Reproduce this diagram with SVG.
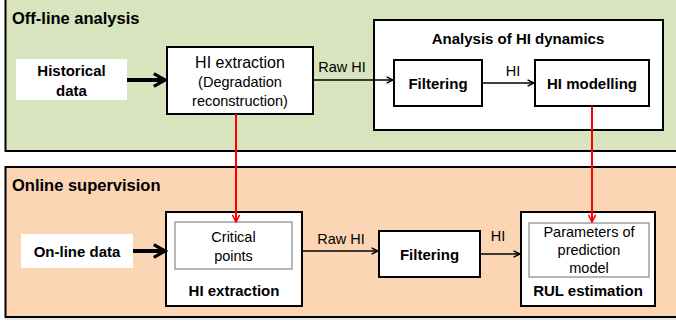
<svg xmlns="http://www.w3.org/2000/svg" width="676" height="323" viewBox="0 0 676 323">
<style>
text{font-family:"Liberation Sans",Arial,sans-serif;fill:#000}
.t{font-size:16.5px;font-weight:bold}
.n{font-size:14.5px}
.m{font-size:15px;font-weight:bold}
.box{fill:#fff;stroke:#000;stroke-width:2}
.inner{fill:#fff;stroke:#888;stroke-width:1.2}
.thin{stroke:#000;stroke-width:1.5;fill:none}
.thick{stroke:#000;stroke-width:4;fill:none}
.red{stroke:#ff0000;stroke-width:2;fill:none}
</style>
<defs>
<marker id="ah" viewBox="0 0 10 10" refX="9" refY="5" markerWidth="8" markerHeight="8" markerUnits="userSpaceOnUse" orient="auto"><path d="M1,1 L9,5 L1,9" fill="none" stroke="#000" stroke-width="1.8"/></marker>
<marker id="ahT" viewBox="0 0 10 10" refX="8" refY="5" markerWidth="4" markerHeight="4.5" orient="auto"><path d="M1,1 L8,5 L1,9" fill="none" stroke="#000" stroke-width="2"/></marker>
<marker id="ahR" viewBox="0 0 10 10" refX="9" refY="5" markerWidth="9" markerHeight="9" markerUnits="userSpaceOnUse" orient="auto"><path d="M1,1 L9,5 L1,9" fill="none" stroke="#ff0000" stroke-width="1.8"/></marker>
</defs>
<g id="panel-offline">
<rect x="5.5" y="-5" width="680" height="156" fill="#d7e4bd" stroke="#000" stroke-width="2"/>
<text x="12" y="24" class="t">Off-line analysis</text>
</g>
<g id="panel-online">
<rect x="5.5" y="167" width="680" height="150" fill="#fcd5b5" stroke="#000" stroke-width="2"/>
<line x1="5" y1="319" x2="676" y2="319" stroke="#ccc" stroke-width="1"/>
<text x="12" y="191" class="t">Online supervision</text>
</g>
<g id="historical-data">
<rect x="16" y="59" width="111" height="41" fill="#fff"/>
<text x="71.5" y="76" class="m" text-anchor="middle">Historical</text>
<text x="71.5" y="96" class="m" text-anchor="middle">data</text>
</g>
<g id="hi-extraction-offline">
<rect x="167" y="47" width="146" height="67" class="box"/>
<text x="240" y="68" text-anchor="middle" font-size="16">HI extraction</text>
<text x="240" y="87" class="n" text-anchor="middle">(Degradation</text>
<text x="240" y="106" class="n" text-anchor="middle">reconstruction)</text>
</g>
<g id="analysis-hi-dynamics">
<rect x="374" y="20" width="289" height="110" class="box"/>
<text x="518" y="44" class="m" text-anchor="middle">Analysis of HI dynamics</text>
</g>
<g id="filtering-offline">
<rect x="394" y="60" width="88" height="46" class="box"/>
<text x="438" y="89" class="m" text-anchor="middle">Filtering</text>
</g>
<g id="hi-modelling">
<rect x="535" y="60" width="114" height="46" class="box"/>
<text x="592" y="89" class="m" text-anchor="middle">HI modelling</text>
</g>
<g id="online-data">
<rect x="21" y="234" width="112" height="34" fill="#fff"/>
<text x="77" y="257" class="m" text-anchor="middle">On-line data</text>
</g>
<g id="hi-extraction-online">
<rect x="166" y="212" width="136" height="94" class="box"/>
<rect x="175" y="222" width="117" height="47" class="inner"/>
<text x="233.5" y="242" class="n" text-anchor="middle">Critical</text>
<text x="233.5" y="261" class="n" text-anchor="middle">points</text>
<text x="234" y="296" class="m" text-anchor="middle">HI extraction</text>
</g>
<g id="filtering-online">
<rect x="379" y="231" width="101" height="46" class="box"/>
<text x="429.5" y="260" class="m" text-anchor="middle">Filtering</text>
</g>
<g id="rul-estimation">
<rect x="521" y="212" width="134" height="94" class="box"/>
<rect x="529" y="223" width="120" height="54" class="inner"/>
<text x="589" y="237" class="n" text-anchor="middle">Parameters of</text>
<text x="589" y="255" class="n" text-anchor="middle">prediction</text>
<text x="589" y="273" class="n" text-anchor="middle">model</text>
<text x="588" y="296" class="m" text-anchor="middle">RUL estimation</text>
</g>
<g id="connectors">
<line x1="127" y1="80" x2="165" y2="80" class="thick" marker-end="url(#ahT)"/>
<line x1="313" y1="80" x2="393" y2="80" class="thin" marker-end="url(#ah)"/>
<text x="342" y="72" class="n" text-anchor="middle">Raw HI</text>
<line x1="482" y1="83" x2="534" y2="83" class="thin" marker-end="url(#ah)"/>
<text x="513" y="76" class="n" text-anchor="middle">HI</text>
<line x1="236" y1="114" x2="236" y2="222" class="red" marker-end="url(#ahR)"/>
<line x1="592" y1="106" x2="592" y2="222" class="red" marker-end="url(#ahR)"/>
<line x1="133" y1="251" x2="165" y2="251" class="thick" marker-end="url(#ahT)"/>
<line x1="302" y1="251" x2="378" y2="251" class="thin" marker-end="url(#ah)"/>
<text x="341" y="244" class="n" text-anchor="middle">Raw HI</text>
<line x1="480" y1="254" x2="520" y2="254" class="thin" marker-end="url(#ah)"/>
<text x="498" y="241" class="n" text-anchor="middle">HI</text>
</g>
</svg>
